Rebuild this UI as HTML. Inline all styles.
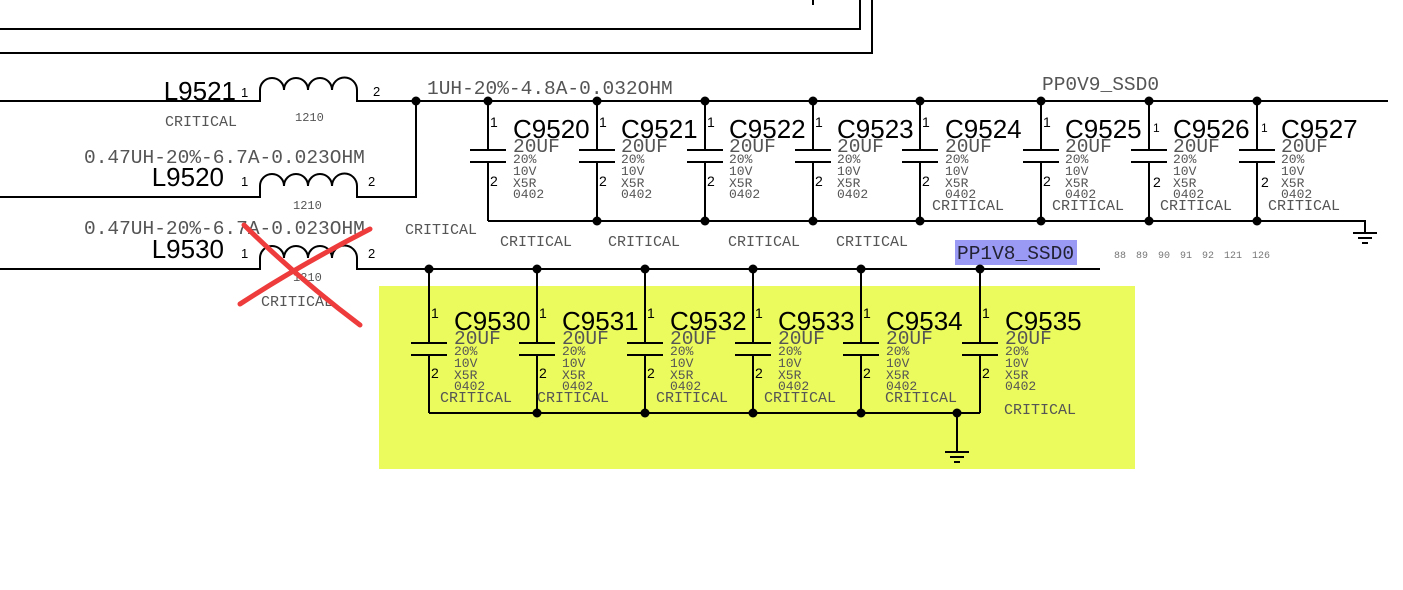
<!DOCTYPE html>
<html><head><meta charset="utf-8"><style>
html,body{margin:0;padding:0;background:#fff}
svg{display:block}
.m{font-family:"Liberation Mono",monospace;fill:#555}
.s{font-family:"Liberation Sans",sans-serif;fill:#000}
</style></head><body>
<svg width="1403" height="590" viewBox="0 0 1403 590" xmlns="http://www.w3.org/2000/svg">
<rect x="379" y="286" width="756" height="183" fill="#ebfa5c"/>
<rect x="955" y="240" width="122" height="25" fill="#9a9af5"/>
<g stroke="#000" stroke-width="2" fill="none">
<path d="M0,29H860V0M0,53H872V0M813,0V5"/>
<path d="M0,101H260V90A12,12 0 0 1 284,90A12,12 0 0 1 308,90A12,12 0 0 1 332,90A12,12 0 0 1 357,90V101H416"/>
<path d="M0,197H260V186A12,12 0 0 1 284,186A12,12 0 0 1 308,186A12,12 0 0 1 332,186A12,12 0 0 1 357,186V197H416V101"/>
<path d="M0,269H260V258A12,12 0 0 1 284,258A12,12 0 0 1 308,258A12,12 0 0 1 332,258A12,12 0 0 1 357,258V269H1100"/>
<path d="M416,101H1388"/>
<path d="M488,221H1365V232M1353,233H1377M1358,238H1372M1362,243H1368"/>
<path d="M429,413H980M957,413V451M945,452H969M950,457H964M954,462H960"/>
</g>
<g stroke="#000" stroke-width="2" fill="none">
<path d="M488,101V150M488,162V221M470,150H506M470,162H506"/>
<path d="M597,101V150M597,162V221M579,150H615M579,162H615"/>
<path d="M705,101V150M705,162V221M687,150H723M687,162H723"/>
<path d="M813,101V150M813,162V221M795,150H831M795,162H831"/>
<path d="M920,101V150M920,162V221M902,150H938M902,162H938"/>
<path d="M1041,101V150M1041,162V221M1023,150H1059M1023,162H1059"/>
<path d="M1149,101V150M1149,162V221M1131,150H1167M1131,162H1167"/>
<path d="M1257,101V150M1257,162V221M1239,150H1275M1239,162H1275"/>
<path d="M429,269V343M429,355V413M411,343H447M411,355H447"/>
<path d="M537,269V343M537,355V413M519,343H555M519,355H555"/>
<path d="M645,269V343M645,355V413M627,343H663M627,355H663"/>
<path d="M753,269V343M753,355V413M735,343H771M735,355H771"/>
<path d="M861,269V343M861,355V413M843,343H879M843,355H879"/>
<path d="M980,269V343M980,355V413M962,343H998M962,355H998"/>
</g>
<g fill="#000">
<circle cx="416" cy="101" r="4.5"/><circle cx="488" cy="101" r="4.5"/><circle cx="597" cy="101" r="4.5"/><circle cx="705" cy="101" r="4.5"/><circle cx="813" cy="101" r="4.5"/><circle cx="920" cy="101" r="4.5"/><circle cx="1041" cy="101" r="4.5"/><circle cx="1149" cy="101" r="4.5"/><circle cx="1257" cy="101" r="4.5"/>
<circle cx="597" cy="221" r="4.5"/><circle cx="705" cy="221" r="4.5"/><circle cx="813" cy="221" r="4.5"/><circle cx="920" cy="221" r="4.5"/><circle cx="1041" cy="221" r="4.5"/><circle cx="1149" cy="221" r="4.5"/><circle cx="1257" cy="221" r="4.5"/>
<circle cx="429" cy="269" r="4.5"/><circle cx="537" cy="269" r="4.5"/><circle cx="645" cy="269" r="4.5"/><circle cx="753" cy="269" r="4.5"/><circle cx="861" cy="269" r="4.5"/><circle cx="980" cy="269" r="4.5"/>
<circle cx="537" cy="413" r="4.5"/><circle cx="645" cy="413" r="4.5"/><circle cx="753" cy="413" r="4.5"/><circle cx="861" cy="413" r="4.5"/><circle cx="957" cy="413" r="4.5"/>
</g>
<g class="s">
<text x="236" y="100" font-size="26" text-anchor="end">L9521</text>
<text x="224" y="186" font-size="26" text-anchor="end">L9520</text>
<text x="224" y="258" font-size="26" text-anchor="end">L9530</text>
<text x="241" y="97" font-size="13">1</text><text x="373" y="96" font-size="13">2</text>
<text x="241" y="186" font-size="13">1</text><text x="368" y="186" font-size="13">2</text>
<text x="241" y="258" font-size="13">1</text><text x="368" y="258" font-size="13">2</text>
</g>
<g class="m">
<text x="165" y="126" font-size="15">CRITICAL</text>
<text x="295" y="121" font-size="12">1210</text>
<text x="84" y="163" font-size="19.5">0.47UH-20%-6.7A-0.023OHM</text>
<text x="293" y="209" font-size="12">1210</text>
<text x="84" y="234" font-size="19.5">0.47UH-20%-6.7A-0.023OHM</text>
<text x="293" y="281" font-size="12">1210</text>
<text x="261" y="306" font-size="15">CRITICAL</text>
<text x="405" y="234" font-size="15">CRITICAL</text>
<text x="427" y="94" font-size="19.5">1UH-20%-4.8A-0.032OHM</text>
<text x="1042" y="90" font-size="19.5">PP0V9_SSD0</text>
<text x="957" y="259" font-size="19.5" fill="#223">PP1V8_SSD0</text>
<text x="1114" y="258" font-size="10" word-spacing="4" fill="#777">88 89 90 91 92 121 126</text>
</g>
<g>
<g class="s" font-size="26">
<text x="513" y="138">C9520</text><text x="621" y="138">C9521</text><text x="729" y="138">C9522</text><text x="837" y="138">C9523</text><text x="945" y="138">C9524</text><text x="1065" y="138">C9525</text><text x="1173" y="138">C9526</text><text x="1281" y="138">C9527</text>
<text x="454" y="330">C9530</text><text x="562" y="330">C9531</text><text x="670" y="330">C9532</text><text x="778" y="330">C9533</text><text x="886" y="330">C9534</text><text x="1005" y="330">C9535</text>
</g>
<g class="s" font-size="14">
<text x="490" y="127">1</text><text x="490" y="186">2</text>
<text x="599" y="127">1</text><text x="599" y="186">2</text>
<text x="707" y="127">1</text><text x="707" y="186">2</text>
<text x="815" y="127">1</text><text x="815" y="186">2</text>
<text x="922" y="127">1</text><text x="922" y="186">2</text>
<text x="1043" y="127">1</text><text x="1043" y="186">2</text>
<text x="1153" y="132" font-size="12">1</text><text x="1153" y="187">2</text>
<text x="1261" y="132" font-size="12">1</text><text x="1261" y="187">2</text>
<text x="431" y="318">1</text><text x="431" y="378">2</text>
<text x="539" y="318">1</text><text x="539" y="378">2</text>
<text x="647" y="318">1</text><text x="647" y="378">2</text>
<text x="755" y="318">1</text><text x="755" y="378">2</text>
<text x="863" y="318">1</text><text x="863" y="378">2</text>
<text x="982" y="318">1</text><text x="982" y="378">2</text>
</g>
<g class="m" font-size="19.5">
<text x="513" y="152">20UF</text><text x="621" y="152">20UF</text><text x="729" y="152">20UF</text><text x="837" y="152">20UF</text><text x="945" y="152">20UF</text><text x="1065" y="152">20UF</text><text x="1173" y="152">20UF</text><text x="1281" y="152">20UF</text>
<text x="454" y="344">20UF</text><text x="562" y="344">20UF</text><text x="670" y="344">20UF</text><text x="778" y="344">20UF</text><text x="886" y="344">20UF</text><text x="1005" y="344">20UF</text>
</g>
<g class="m" font-size="13">
<g id="d1"><text x="513" y="163">20%</text><text x="513" y="175">10V</text><text x="513" y="187">X5R</text><text x="513" y="198">0402</text></g>
<use href="#d1" x="108"/><use href="#d1" x="216"/><use href="#d1" x="324"/><use href="#d1" x="432"/><use href="#d1" x="552"/><use href="#d1" x="660"/><use href="#d1" x="768"/>
<use href="#d1" x="-59" y="192"/><use href="#d1" x="49" y="192"/><use href="#d1" x="157" y="192"/><use href="#d1" x="265" y="192"/><use href="#d1" x="373" y="192"/><use href="#d1" x="492" y="192"/>
</g>
<g class="m" font-size="15">
<text x="500" y="246">CRITICAL</text><text x="608" y="246">CRITICAL</text><text x="728" y="246">CRITICAL</text><text x="836" y="246">CRITICAL</text>
<text x="932" y="210">CRITICAL</text><text x="1052" y="210">CRITICAL</text><text x="1160" y="210">CRITICAL</text><text x="1268" y="210">CRITICAL</text>
<text x="440" y="402">CRITICAL</text><text x="537" y="402">CRITICAL</text><text x="656" y="402">CRITICAL</text><text x="764" y="402">CRITICAL</text><text x="885" y="402">CRITICAL</text><text x="1004" y="414">CRITICAL</text>
</g>
</g>
<g stroke="#ee3b3b" stroke-width="5" stroke-linecap="round" fill="none">
<path d="M240,304Q300,265 370,229"/>
<path d="M244,225Q300,280 360,325"/>
</g>
</svg>
</body></html>
